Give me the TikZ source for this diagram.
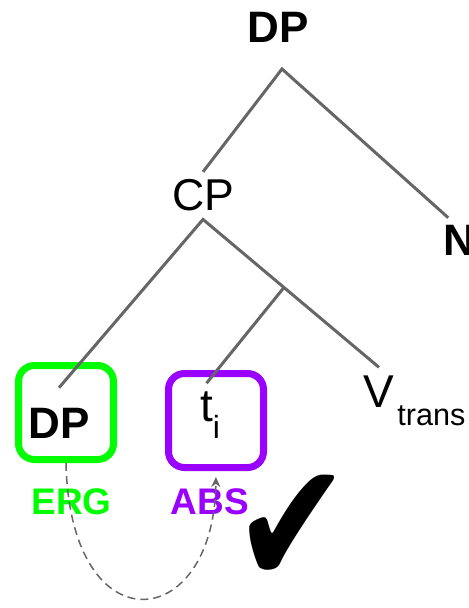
\documentclass[tikz,border=0pt]{standalone}
\usepackage{fontspec}
\setmainfont{Liberation Sans}
\newfontfamily\checkfont{DejaVu Sans}
\usetikzlibrary{arrows.meta,calc}
\definecolor{grigio}{HTML}{666666}
\definecolor{verde}{HTML}{00FF00}
\definecolor{viola}{HTML}{9900FF}

\begin{document}
\begin{tikzpicture}[x=0.5pt, y=-0.5pt, every node/.style={inner sep=0pt, outer sep=4pt},
  ramo/.style={draw=grigio, line width=1.5pt},
  casella/.style={draw=#1, line width=3.5pt, rounded corners=8pt, minimum width=47.5pt, minimum height=47pt, outer sep=1.75pt},
  caso/.style={font=\bfseries\fontsize{18.5}{20}\selectfont, text=#1, anchor=base},
  cat/.style={font=\fontsize{22}{24}\selectfont, anchor=base},
  catb/.style={font=\bfseries\fontsize{22}{24}\selectfont, anchor=base},
  pedice/.style={font=\fontsize{#1}{#1}\selectfont, anchor=base west, outer sep=0pt},
  freccia/.style={draw=grigio, line width=0.75pt, dash pattern=on 4pt off 2.5pt, -{Stealth[length=5pt,width=4.5pt]}, shorten >=3pt}]

\useasboundingbox (0,0) rectangle (469,608);

% caselle
\node[casella=verde] (ergbox) at (66,412.5) {};
\node[casella=viola] (absbox) at (216,420.5) {};

% nodi
\node[catb] (dp) at (278,43) {DP};
\coordinate (apex) at (282,69);
\node[cat, font=\fontsize{22.3}{24}\selectfont] (cp) at (203,211) {CP};
\node[catb] (n) at (459,256) {N};
\node[catb, outer sep=10pt] (dpe) at (59,438) {DP};
\node[cat, font=\fontsize{23}{24}\selectfont, label={[pedice=16, xshift=-4pt, yshift=-4.5pt]south east:i}] (t) at (206.5,421) {t};
\node[cat, font=\fontsize{23}{24}\selectfont, label={[pedice=15.3, xshift=-2.5pt, yshift=-5pt]south east:trans}] (v) at (379,407) {V};
\coordinate (fork) at ($(cp.south)!0.46!(v.north)$);

\node[caso=verde] (erg) at (71.5,514) {ERG};
\node[caso=viola] (abs) at (210,514) {ABS};
\node[font=\checkfont\fontsize{70}{70}\selectfont] (check) at (292,530) {\scalebox{1}[1.25]{✔}};

% rami
\draw[ramo] (cp.north) -- (apex) -- (n.115);
\draw[ramo] (dpe.north) -- (cp.south) -- (v.north);
\draw[ramo] (fork) -- (t.north);

% movimento
\draw[freccia] (ergbox.south) .. controls (70,648) and (214,635) .. (absbox.south);

\end{tikzpicture}
\end{document}
